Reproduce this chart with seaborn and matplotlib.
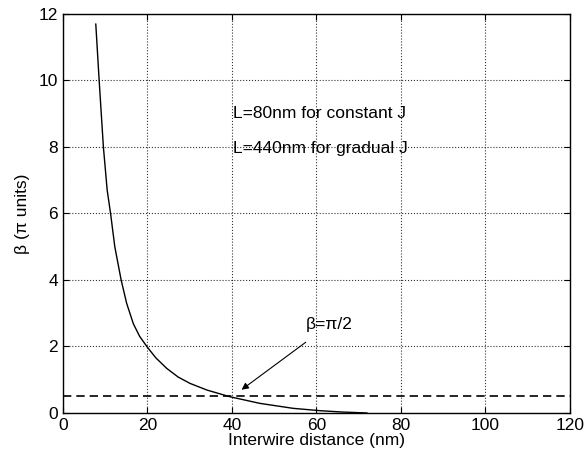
import numpy as np
import pandas as pd
import matplotlib
matplotlib.use('Agg')
import matplotlib.pyplot as plt
import seaborn as sns

# curve
distance = [7.8, 8.6, 9.6, 10.5, 11.3, 12.3, 13.8, 15.1, 16.7, 18.2, 20.0, 22.0, 24.6, 27.3,
            30.1, 34.1, 39.5, 46.6, 54.5, 60.8, 66.0, 72.0]
beta = [11.7, 10.0, 8.0, 6.7, 6.0, 5.0, 4.0, 3.3, 2.68, 2.3, 1.98, 1.66, 1.34, 1.08,
        0.89, 0.69, 0.49, 0.29, 0.14, 0.07, 0.03, 0.0]
threshold = 0.5

df = pd.DataFrame({"d": distance, "b": beta})

sns.set_style("ticks")
plt.rcParams['font.family'] = ['Liberation Sans', 'DejaVu Sans']
plt.rcParams['font.size'] = 12
plt.rcParams['text.color'] = 'black'
plt.rcParams['axes.labelcolor'] = 'black'
plt.rcParams['xtick.color'] = 'black'
plt.rcParams['ytick.color'] = 'black'

fig = plt.figure(figsize=(5.87, 4.63), dpi=100)
ax = fig.add_axes([0.107, 0.108, 0.864, 0.862])

sns.lineplot(data=df, x="d", y="b", ax=ax, color='black', linewidth=1.0)
ax.axhline(threshold, color='black', linestyle=(0, (5, 3)), linewidth=1.2)

ax.set_xlim(0, 120)
ax.set_ylim(0, 12)
ax.set_xticks(range(0, 121, 20))
ax.set_yticks(range(0, 13, 2))
ax.grid(True, linestyle=':', color='black', linewidth=0.8, alpha=0.8)
ax.tick_params(direction='in', length=4, labelsize=12.5, top=True, right=True,
               labeltop=False, labelright=False)
for s in ax.spines.values():
    s.set_linewidth(1.0)
    s.set_color('black')

ax.set_xlabel('Interwire distance (nm)', fontsize=12.5, labelpad=0)
ax.set_ylabel('β (π units)', fontsize=12.5, labelpad=6)

ax.text(40.3, 9.0, 'L=80nm for constant J', fontsize=12.5, va='center')
ax.text(40.3, 7.95, 'L=440nm for gradual J', fontsize=12.5, va='center')
ax.annotate('β=π/2', xy=(42.3, 0.7), xytext=(57.5, 2.65), fontsize=12.5, va='center',
            arrowprops=dict(arrowstyle='-|>', color='black', lw=0.8,
                            shrinkA=8, shrinkB=0, mutation_scale=10))

fig.savefig('out.png', dpi=100)
